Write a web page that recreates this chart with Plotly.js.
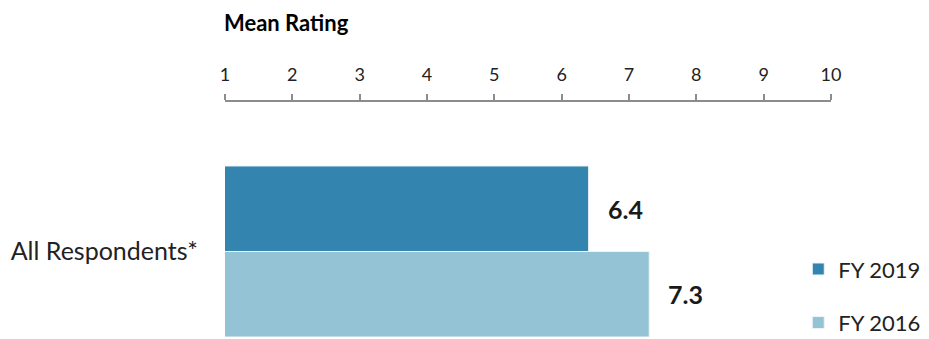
<!DOCTYPE html>
<html>
<head>
<meta charset="utf-8">
<script src="https://cdn.plot.ly/plotly-3.0.1.min.js"></script>
<style>html,body{margin:0;padding:0;background:#fff;}#chart{width:929px;height:339px;}</style>
</head>
<body>
<div id="chart"></div>
<script>
const categories = ["All Respondents*"];
const seriesNames = ["FY 2016", "FY 2019"];
const values2016 = [7.3];
const values2019 = [6.4];
const tickVals = [1, 2, 3, 4, 5, 6, 7, 8, 9, 10];
const axisTitle = "Mean Rating";

const FONT = "Lato, 'Open Sans', sans-serif";
const colors = {"FY 2016": "#93c3d4", "FY 2019": "#3385b0"};
const ranks = {"FY 2016": 2, "FY 2019": 1};
const seriesValues = {"FY 2016": values2016, "FY 2019": values2019};

const traces = seriesNames.map((name) => ({
  type: "bar",
  orientation: "h",
  name: name,
  y: categories,
  x: seriesValues[name],
  marker: {color: colors[name], line: {color: "#eef4f7", width: 1}},
  legendgroup: name,
  legendrank: ranks[name],
  hoverinfo: "skip"
}));

const annotations = [];
seriesNames.forEach((name, i) => {
  seriesValues[name].forEach((v, j) => {
    annotations.push({
      x: v, y: j + (i === 0 ? -0.25 : 0.25), xref: "x", yref: "y",
      text: "<b>" + v.toFixed(1) + "</b>", showarrow: false,
      xanchor: "left", yanchor: "middle", xshift: 17,
      font: {family: FONT, size: 25, color: "#1a1a1a"}
    });
  });
});
annotations.push({
  x: 0, y: 1.34, xref: "paper", yref: "paper", xshift: -3,
  text: "<b>" + axisTitle + "</b>", showarrow: false,
  xanchor: "left", yanchor: "middle",
  font: {family: FONT, size: 22, color: "#000"}
});

const layout = {
  width: 929, height: 339,
  margin: {l: 225, r: 98, t: 102, b: 2, pad: 0, autoexpand: false},
  paper_bgcolor: "#fff", plot_bgcolor: "#fff",
  barmode: "group", bargap: 0, bargroupgap: 0,
  font: {family: FONT, color: "#222"},
  xaxis: {
    side: "top", range: [1, 10], tickmode: "array",
    tickvals: tickVals, ticktext: tickVals.map(String),
    showline: true, linecolor: "#8c8c8c", linewidth: 2,
    ticks: "outside", ticklen: 6, tickwidth: 2, tickcolor: "#8c8c8c",
    showgrid: false, zeroline: false, automargin: false,
    tickfont: {family: FONT, size: 18, color: "#222"},
    ticklabelstandoff: 6, fixedrange: true
  },
  yaxis: {
    range: [-0.5, 0.874], showline: false, showgrid: false, zeroline: false,
    ticks: "", tickfont: {family: FONT, size: 25, color: "#222"},
    ticklabelstandoff: 26, fixedrange: true, automargin: false
  },
  showlegend: true,
  legend: {
    x: 0.946, y: 0.378, xanchor: "left", yanchor: "top",
    traceorder: "grouped", tracegroupgap: 22,
    font: {family: FONT, size: 22, color: "#222"},
    itemwidth: 30, bgcolor: "rgba(0,0,0,0)"
  },
  annotations: annotations
};

Plotly.newPlot("chart", traces, layout, {displayModeBar: false, staticPlot: true});
</script>
</body>
</html>
